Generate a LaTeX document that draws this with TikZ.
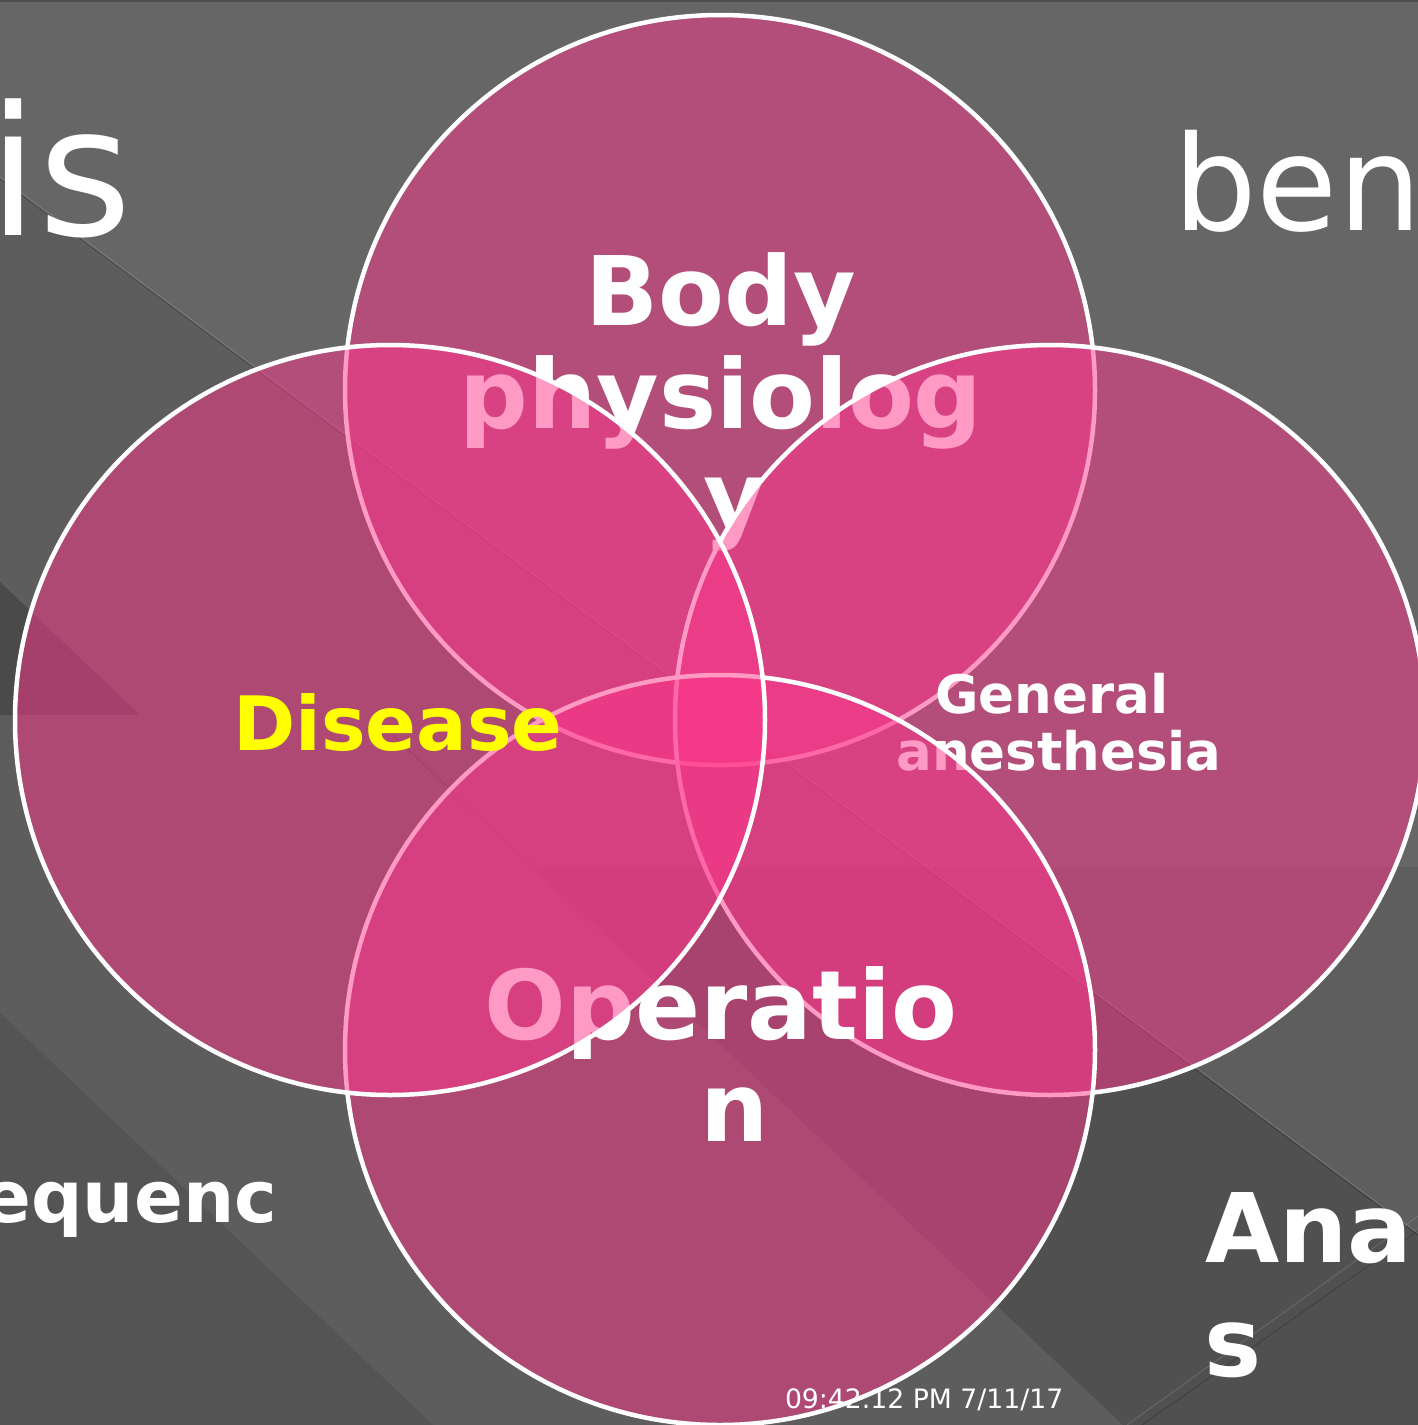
\documentclass[tikz,border=0pt]{standalone}
\usepackage{fontspec}
\setmainfont{DejaVu Sans}
\definecolor{petal}{RGB}{255,55,140}
\definecolor{bgtop}{HTML}{666666}
\definecolor{bgmid}{HTML}{5D5D5D}
\definecolor{bgband}{HTML}{5E5E5E}
\definecolor{bgdark}{HTML}{505050}
\definecolor{bglow}{HTML}{545454}
\definecolor{bgwedge}{HTML}{4A4A4A}
\definecolor{bgrim}{HTML}{4F4F4F}
\definecolor{labelyellow}{HTML}{FFFF00}
\tikzset{
  venn/.style={circle, minimum size=750pt, inner sep=0pt, outer sep=0pt,
    fill=petal, fill opacity=0.5, draw=white, draw opacity=1, line width=4.5pt},
  lbl/.style={anchor=base, inner sep=0pt, outer sep=0pt, text=white,
    font=\bfseries\fontsize{#1}{#1}\selectfont},
  bgtext/.style={inner sep=0pt, outer sep=0pt, text=white,
    font=\fontsize{#1}{#1}\selectfont},
  bgbold/.style={inner sep=0pt, outer sep=0pt, text=white,
    font=\bfseries\fontsize{#1}{#1}\selectfont},
  seamlight/.style={line width=1pt, white, opacity=0.13},
  seamdark/.style={line width=1pt, black, opacity=0.18}
}
\begin{document}
\begin{tikzpicture}[x=1pt,y=-1pt]
\useasboundingbox (0,0) rectangle (1418,1425);
\begin{scope}
\clip (0,0) rectangle (1418,1425);

% slide background: grey panels cut by diagonal seams
\fill[bgtop] (0,0) rectangle (1418,1425);
\fill[bgrim] (0,0) rectangle (1418,2);
\fill[bgmid] (0,178) -- (1418,1234) -- (1418,1425) -- (0,1425) -- cycle;
\fill[bgband] (925,867) -- (1418,867) -- (1418,1234) -- cycle;
\fill[bgdark] (533,867) -- (925,867) -- (1418,1234) -- (1418,1425) -- (1123,1425) -- cycle;
\fill[bglow] (0,1013) -- (433,1425) -- (0,1425) -- cycle;
\fill[bgwedge] (0,582) -- (140,715) -- (0,715) -- cycle;
\draw[seamlight] (0,177) -- (1418,1233);
\draw[seamdark] (0,179) -- (1418,1235);
\draw[seamdark] (383,726) -- (533,867);
\draw[seamlight] (1127,1425) -- (1418,1216);
\draw[seamdark] (1142,1425) -- (1418,1231);

% slide words behind the diagram
\node[bgtext=180, anchor=base west] (wordis) at (-12,235) {is};
\node[bgtext=132, anchor=base west] (wordben) at (1173,230) {ben};
\node[bgbold=72, anchor=base east] (wordseq) at (277,1222) {equenc};
\node[bgbold=96, anchor=base west] (wordana) at (1205,1262) {Ana};
\node[bgbold=96, anchor=base west] (wordanas) at (1204,1376) {s};

% four overlapping circles, each followed by its label
\node[venn] (top) at (720,390) {};
\node[lbl=96] (bodyA) at (721,325) {Body};
\node[lbl=96] (bodyB) at (721,428) {physiolog};
\node[lbl=96] (bodyC) at (735,530) {y};

\node[venn] (right) at (1050,720) {};
\node[lbl=53] (anesA) at (1052,713) {General};
\node[lbl=53] (anesB) at (1059,770) {anesthesia};

\node[venn] (bottom) at (720,1050) {};
\node[lbl=96] (operA) at (721,1039) {Operatio};
\node[lbl=96] (operB) at (735,1141) {n};

\node[venn] (left) at (390,720) {};
\node[lbl=75, text=labelyellow] (disease) at (398,750) {Disease};

% footer stamp
\node[bgtext=26.7, anchor=base west] (stamp) at (785,1408) {09:42.12 PM 7/11/17};
\end{scope}
\end{tikzpicture}
\end{document}
